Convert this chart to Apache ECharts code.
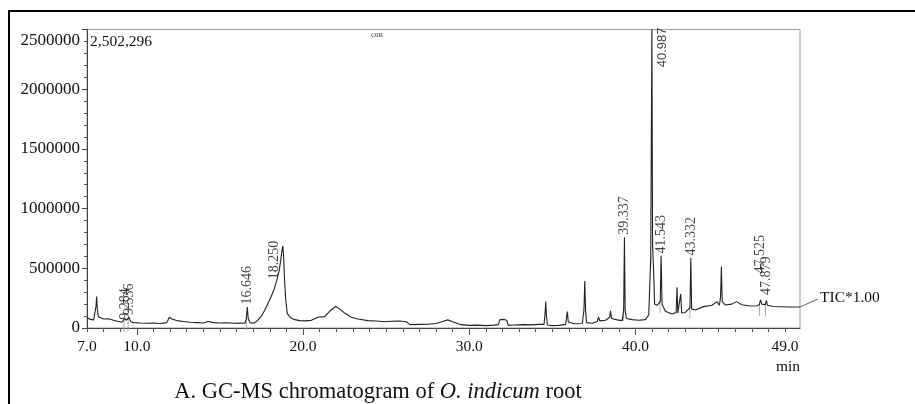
<!DOCTYPE html>
<html>
<head>
<meta charset="utf-8">
<script src="https://cdn.jsdelivr.net/npm/echarts@6.0.0/dist/echarts.min.js"></script>
<style>
  html, body { margin: 0; padding: 0; background: #fff; }
  #chart { width: 915px; height: 404px; }
</style>
</head>
<body>
<div id="chart"></div>
<script>
// retention time (min) and total ion current
const rtMin = [
  7.00, 7.10, 7.20, 7.30, 7.40, 7.48, 7.54, 7.58, 7.62, 7.68, 7.80, 8.00, 8.30, 8.60, 8.90,
  9.10, 9.20, 9.284, 9.35, 9.45, 9.536, 9.62, 9.80, 10.2, 10.6, 11.0, 11.4, 11.8, 11.95, 12.1,
  12.4, 12.8, 13.2, 13.6, 14.0, 14.3, 14.6, 15.0, 15.4, 15.8, 16.2, 16.5, 16.58, 16.646, 16.70,
  16.80, 17.0, 17.2, 17.5, 17.7, 17.9, 18.1, 18.25, 18.4, 18.55, 18.65, 18.72, 18.78, 18.83, 18.88,
  18.95, 19.05, 19.25, 19.5, 19.8, 20.1, 20.5, 20.9, 21.3, 21.6, 21.95, 22.2, 22.5, 22.9, 23.3,
  23.9, 24.4, 24.9, 25.3, 25.8, 26.2, 26.45, 27.0, 27.5, 28.0, 28.4, 28.7, 29.0, 29.5, 30.0,
  30.5, 31.0, 31.5, 31.75, 31.85, 31.95, 32.1, 32.25, 32.35, 32.7, 33.2, 33.7, 34.2, 34.5, 34.56,
  34.6, 34.64, 34.7, 35.0, 35.4, 35.8, 35.9, 35.96, 36.3, 36.8, 36.9, 36.95, 37.0, 37.06, 37.4,
  37.7, 37.78, 37.85, 38.2, 38.45, 38.5, 38.56, 38.9, 39.2, 39.29, 39.337, 39.38, 39.45, 39.8, 40.2,
  40.6, 40.8, 40.92, 40.987, 41.03, 41.10, 41.15, 41.3, 41.49, 41.543, 41.6, 41.8, 42.2, 42.45, 42.5,
  42.55, 42.65, 42.72, 42.78, 43.0, 43.28, 43.332, 43.38, 43.6, 44.1, 44.6, 44.9, 45.05, 45.12, 45.17,
  45.22, 45.4, 45.8, 46.08, 46.4, 46.9, 47.3, 47.45, 47.525, 47.6, 47.8, 47.879, 47.95, 48.3, 48.8,
  49.3, 49.9
];
const tic = [
  88000, 80000, 72000, 70000, 68000, 75000, 180000, 263000, 160000, 95000, 80000, 75000, 78000, 65000, 55000,
  48000, 60000, 82000, 65000, 68000, 88000, 55000, 45000, 42000, 40000, 42000, 38000, 45000, 90000, 75000,
  62000, 55000, 48000, 45000, 42000, 55000, 45000, 42000, 44000, 40000, 42000, 40000, 70000, 176000, 80000,
  45000, 40000, 55000, 100000, 150000, 210000, 270000, 320000, 390000, 470000, 560000, 640000, 688000, 600000, 420000,
  250000, 120000, 85000, 70000, 62000, 60000, 64000, 90000, 95000, 140000, 180000, 160000, 125000, 90000, 75000,
  62000, 58000, 52000, 57000, 58000, 52000, 28000, 30000, 32000, 38000, 55000, 68000, 52000, 28000, 22000,
  24000, 20000, 24000, 28000, 70000, 84000, 72000, 65000, 22000, 25000, 28000, 26000, 30000, 30000, 120000,
  221000, 110000, 25000, 20000, 22000, 30000, 137000, 50000, 35000, 38000, 150000, 394000, 140000, 45000, 40000,
  55000, 92000, 60000, 65000, 90000, 143000, 80000, 68000, 62000, 150000, 761000, 150000, 80000, 70000, 65000,
  70000, 110000, 600000, 2502296, 700000, 445000, 200000, 190000, 220000, 604000, 200000, 140000, 117000, 130000, 341000,
  125000, 130000, 285000, 125000, 130000, 170000, 587000, 160000, 151000, 179000, 190000, 221000, 190000, 260000, 514000,
  220000, 193000, 200000, 221000, 195000, 184000, 186000, 195000, 235000, 200000, 195000, 230000, 190000, 180000, 178000,
  176000, 176000
];
// labelled peaks (retention time text as printed)
const peakNames = ['9.284', '9.536', '16.646', '18.250', '39.337', '40.987', '41.543', '43.332', '47.525', '47.879'];
// axis ticks and labels
const xLabelValues = [7, 10, 20, 30, 40, 49];
const xMajorTicks = [10, 20, 30, 40];
const xMinorTicks = [7, 8, 9, 10, 11, 12, 13, 14, 15, 16, 17, 18, 19, 20, 21, 22, 23, 24, 25, 26, 27, 28,
  29, 30, 31, 32, 33, 34, 35, 36, 37, 38, 39, 40, 41, 42, 43, 44, 45, 46, 47, 48, 49];

const X_MIN = 7;
const X_MAX = 49.9;
const Y_MAX = 2500000;

const serif = 'Liberation Serif';
const traceData = rtMin.map((t, i) => [t, tic[i]]);

// extra gap between peak top and its label, where the print moved it
const labelGap = {'9.284': -4, '18.250': 8, '47.525': 24, '47.879': 3};

let offScaleIdx = -1;
const peakData = [];
const markerData = [];   // baseline under each labelled peak (integration marks)
peakNames.forEach((name, k) => {
  let t = parseFloat(name);
  let idx = rtMin.findIndex(v => Math.abs(v - t) < 0.0005);
  let v = tic[idx];
  let item = {name: name, value: [t, v], label: {distance: 2 + (labelGap[name] || 0)}};
  if (v > Y_MAX) {
    // off-scale peak: label sits at the top of the frame, right of the line
    offScaleIdx = k;
    item.value = [t, Y_MAX * 0.872];
    item.label = {distance: 0, fontFamily: 'Liberation Sans', fontSize: 13};
  }
  peakData.push(item);
  if (name !== '18.250') markerData.push([t, tic[idx - 1]]);
});

const chart = echarts.init(document.getElementById('chart'), null, {renderer: 'canvas'});

const option = {
  animation: false,
  backgroundColor: '#fff',
  grid: {
    left: 87, right: 115, top: 29.5, bottom: 76,
    show: true, borderColor: '#9a9a9a', borderWidth: 1
  },
  xAxis: [
    {
      type: 'value',
      min: X_MIN,
      max: X_MAX,
      axisLine: {show: true, lineStyle: {color: '#444', width: 1}},
      axisTick: {show: true, customValues: xMajorTicks, length: 7, lineStyle: {color: '#444'}},
      axisLabel: {
        customValues: xLabelValues,
        formatter: v => v.toFixed(1),
        fontFamily: serif, fontSize: 15.5, color: '#111', margin: 11
      },
      splitLine: {show: false}
    },
    {
      type: 'value',
      min: X_MIN,
      max: X_MAX,
      position: 'bottom',
      axisLine: {show: false},
      axisTick: {show: true, customValues: xMinorTicks, length: 4, lineStyle: {color: '#555'}},
      axisLabel: {show: false},
      splitLine: {show: false}
    }
  ],
  yAxis: {
    type: 'value',
    min: 0,
    max: Y_MAX,
    interval: 500000,
    axisLine: {show: true, lineStyle: {color: '#444', width: 1}},
    axisTick: {show: true, length: 5, lineStyle: {color: '#444'}},
    minorTick: {show: true, splitNumber: 5, length: 3, lineStyle: {color: '#555'}},
    axisLabel: {
      fontFamily: serif, fontSize: 17, color: '#111', margin: 7,
      formatter: v => v === Y_MAX ? '{top|' + v + '}' : String(v),
      rich: {top: {fontFamily: serif, fontSize: 17, color: '#111', padding: [23, 0, 0, 0]}}
    },
    splitLine: {show: false}
  },
  series: [
    {
      // little grey integration marks hanging below the baseline
      type: 'custom',
      data: markerData,
      renderItem: function (params, api) {
        let p = api.coord([api.value(0), api.value(1)]);
        return {
          type: 'line',
          shape: {x1: p[0] - 1, y1: p[1] - 2, x2: p[0] - 1, y2: p[1] + 11},
          style: {stroke: '#aaa', lineWidth: 1}
        };
      },
      z: 2
    },
    {
      type: 'line',
      data: traceData,
      showSymbol: false,
      symbol: 'none',
      lineStyle: {color: '#222', width: 1.1},
      clip: true,
      z: 3
    },
    {
      type: 'scatter',
      data: peakData,
      symbolSize: 1,
      itemStyle: {color: 'rgba(0,0,0,0)'},
      label: {
        show: true,
        position: 'top',
        rotate: 90,
        align: 'left',
        verticalAlign: 'middle',
        formatter: p => p.name,
        fontFamily: serif,
        fontSize: 14,
        color: '#111'
      },
      labelLayout: function (params) {
        if (params.dataIndex === offScaleIdx) return {dy: 11};
        return {};
      },
      z: 4
    }
  ],
  graphic: [
    // outer frame of the figure panel
    {type: 'rect', shape: {x: 9, y: 11, width: 930, height: 420}, style: {fill: 'none', stroke: '#000', lineWidth: 2}, silent: true},
    {type: 'text', x: 90, y: 42, style: {text: '2,502,296', fontFamily: serif, fontSize: 15.5, fill: '#111', textVerticalAlign: 'middle'}},
    {type: 'text', x: 371, y: 35, style: {text: 'OIR', fontFamily: serif, fontSize: 7, fill: '#333', textVerticalAlign: 'middle'}},
    {type: 'line', shape: {x1: 800, y1: 307, x2: 818, y2: 299}, style: {stroke: '#666', lineWidth: 1}},
    {type: 'text', x: 820, y: 298, style: {text: 'TIC*1.00', fontFamily: serif, fontSize: 15.5, fill: '#111', textVerticalAlign: 'middle'}},
    {type: 'text', x: 788, y: 367, style: {text: 'min', fontFamily: serif, fontSize: 15.5, fill: '#111', textAlign: 'center', textVerticalAlign: 'middle'}},
    {
      type: 'text', x: 378, y: 392,
      style: {
        text: '{n|A. GC-MS chromatogram of }{i|O. indicum}{n| root}',
        textAlign: 'center', textVerticalAlign: 'middle',
        rich: {
          n: {fontFamily: serif, fontSize: 22.5, fill: '#111'},
          i: {fontFamily: serif, fontSize: 22.5, fontStyle: 'italic', fill: '#111'}
        }
      }
    }
  ]
};

chart.setOption(option);
</script>
</body>
</html>
